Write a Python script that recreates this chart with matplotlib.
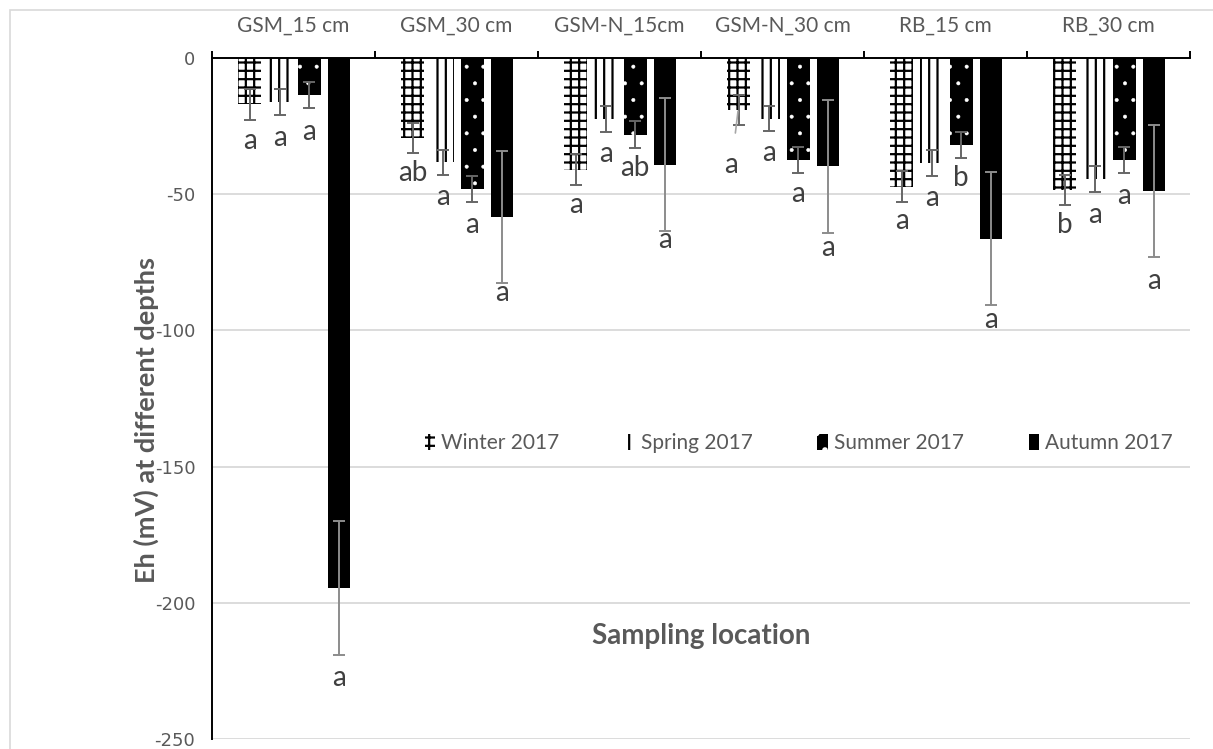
import matplotlib
matplotlib.use('Agg')
import matplotlib.pyplot as plt
import matplotlib.patches as mpatches
import numpy as np

# ── Data ────────────────────────────────────────────────────────────────────
SITES = ['GSM_15 cm', 'GSM_30 cm', 'GSM-N_15cm', 'GSM-N_30 cm', 'RB_15 cm', 'RB_30 cm']
SEASONS = ['Winter 2017', 'Spring 2017', 'Summer 2017', 'Autumn 2017']

winter     = [-17.0, -29.5, -41.0, -19.0, -47.2, -48.4]
winter_err = [5.6, 5.5, 5.6, 5.6, 5.6, 5.6]
spring     = [-16.0, -38.3, -22.5, -22.3, -38.5, -44.5]
spring_err = [4.8, 4.6, 4.7, 4.6, 4.7, 4.7]
summer     = [-13.5, -48.1, -28.1, -37.3, -31.8, -37.3]
summer_err = [4.8, 4.6, 4.8, 4.8, 4.8, 4.8]
autumn     = [-194.5, -58.3, -39.1, -39.7, -66.3, -48.9]
autumn_err = [24.5, 24.2, 24.3, 24.4, 24.3, 24.3]

winter_letters = ['a', 'ab', 'a', 'a', 'a', 'b']
spring_letters = ['a', 'a', 'a', 'a', 'a', 'a']
summer_letters = ['a', 'a', 'ab', 'a', 'b', 'a']
autumn_letters = ['a', 'a', 'a', 'a', 'a', 'a']

VALUES  = [winter, spring, summer, autumn]
ERRORS  = [winter_err, spring_err, summer_err, autumn_err]
LETTERS = [winter_letters, spring_letters, summer_letters, autumn_letters]

# ── Style ───────────────────────────────────────────────────────────────────
GREY_TXT = '#595959'
GRID     = '#D9D9D9'
FONT     = ['Lato', 'DejaVu Sans']

# face, hatch colour, hatch, hatch linewidth
STYLES = [('white', 'black', '++', 1.6),
          ('white', 'black', '||', 1.6),
          ('black', 'white', '.', 0.4),
          ('black', 'black', None, 1.0)]
ERR_COL = ['#666666', '#666666', '#666666', '#8C8C8C']

BAR_W   = 0.14
OFFSETS = [-0.268, -0.085, 0.097, 0.279]

# label drop below the error-bar low end (mV)
LABEL_DROP = [[8.0, 7.3, 7.3, 14.8, 7.0, 7.2],
              [8.6, 8.2, 8.0, 8.0, 8.3, 8.3],
              [8.7, 8.6, 7.6, 7.8, 7.5, 8.5],
              [8.5, 3.7, 3.4, 5.7, 5.5, 8.8]]

plt.rcParams['hatch.linewidth'] = 1.6
plt.rcParams['axes.unicode_minus'] = False


def set_hlw(patch, lw):
    if hasattr(patch, 'set_hatch_linewidth'):
        patch.set_hatch_linewidth(lw)


W, H = 1213, 749
fig = plt.figure(figsize=(W / 100, H / 100), dpi=100)
fig.patch.set_facecolor('white')

ax = fig.add_axes([212 / W, 1 - 739 / H, (1190 - 212) / W, (739 - 58) / H])
ax.set_xlim(-0.5, 5.5)
ax.set_ylim(-250, 0)

x = np.arange(len(SITES))

for i, season in enumerate(SEASONS):
    fc, hc, hatch, hlw = STYLES[i]
    xs = x + OFFSETS[i]
    bars = ax.bar(xs, VALUES[i], width=BAR_W, color=fc, edgecolor=hc,
                  linewidth=0, hatch=hatch, label=season, zorder=2)
    for b in bars:
        set_hlw(b, hlw)
    ax.errorbar(xs, VALUES[i], yerr=ERRORS[i], fmt='none', ecolor=ERR_COL[i],
                elinewidth=1.4, capsize=4.5, capthick=1.4, zorder=3)
    for j in range(len(SITES)):
        low = VALUES[i][j] - ERRORS[i][j]
        ly = low - LABEL_DROP[i][j]
        if i == 0 and j == 3:
            # label pulled aside with a leader line
            ax.annotate(LETTERS[i][j], xy=(xs[j] - 0.005, VALUES[i][j] - 0.5),
                        xytext=(xs[j] - 0.045, ly), ha='center', va='center',
                        fontsize=20, family=FONT, color='#404040',
                        arrowprops=dict(arrowstyle='-', color='#A6A6A6', lw=1.2,
                                        shrinkA=12, shrinkB=0), zorder=4)
        else:
            ax.text(xs[j], ly, LETTERS[i][j], ha='center', va='center',
                    fontsize=20, family=FONT, color='#404040', zorder=4)

# ── Axes styling ────────────────────────────────────────────────────────────
ax.set_yticks(np.arange(-250, 1, 50))
ax.yaxis.grid(True, color=GRID, linewidth=1.3)
ax.set_axisbelow(True)
for s in ('right', 'bottom'):
    ax.spines[s].set_visible(False)
for s in ('top', 'left'):
    ax.spines[s].set_color('black')
    ax.spines[s].set_linewidth(1.4)

ax.xaxis.tick_top()
ax.set_xticks(x)
ax.set_xticklabels(SITES, family=FONT, fontsize=15, color=GREY_TXT)
ax.set_xticks(np.arange(-0.5, 6, 1), minor=True)
ax.tick_params(axis='x', which='major', length=0, pad=16)
ax.tick_params(axis='x', which='minor', length=5, width=1.4, color='black',
               direction='out', top=True, bottom=False)
ax.tick_params(axis='y', length=0, pad=12, labelsize=13, labelcolor=GREY_TXT)
for t in ax.get_yticklabels():
    t.set_family('DejaVu Sans')

# legend
handles = []
for i, season in enumerate(SEASONS):
    fc, hc, hatch, hlw = STYLES[i]
    p = mpatches.Patch(facecolor=fc, edgecolor=hc, linewidth=0,
                       hatch=hatch, label=season)
    set_hlw(p, hlw)
    handles.append(p)
leg = ax.legend(handles=handles, loc='center', bbox_to_anchor=(0.6, 0.4347),
                ncol=4, frameon=False, handlelength=0.5, handleheight=0.8,
                handletextpad=0.3, columnspacing=3.1,
                prop={'family': FONT, 'size': 15})
for t in leg.get_texts():
    t.set_color(GREY_TXT)

# axis titles
fig.text(146 / W, 1 - 420 / H, 'Eh (mV) at different depths', rotation=90,
         ha='center', va='center', fontsize=19.5, fontweight='bold',
         family=FONT, color=GREY_TXT)
fig.text(701 / W, 1 - 636 / H, 'Sampling location', ha='center', va='center',
         fontsize=20, fontweight='bold', family=FONT, color=GREY_TXT)

# chart-area border (left and top visible)
fig.add_artist(mpatches.Rectangle((10 / W, -0.2), 1.2, 1.2 - 10 / H,
                                  transform=fig.transFigure, fill=False,
                                  edgecolor=GRID, linewidth=1.2))

fig.savefig('out.png', dpi=100, facecolor='white')
